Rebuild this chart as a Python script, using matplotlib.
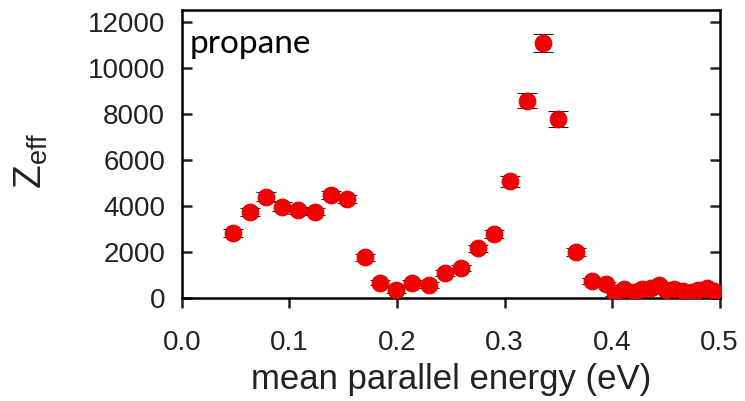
import matplotlib.pyplot as plt
import numpy as np

# mean parallel energy (eV) and Zeff values
energy = [0.048, 0.063, 0.078, 0.093, 0.108, 0.124, 0.139, 0.154, 0.170, 0.184,
          0.199, 0.214, 0.230, 0.245, 0.260, 0.275, 0.290, 0.305, 0.321, 0.336,
          0.350, 0.366, 0.381, 0.394, 0.403, 0.411, 0.420, 0.428, 0.436, 0.444,
          0.450, 0.458, 0.466, 0.474, 0.480, 0.488, 0.495]
zeff = [2810, 3730, 4400, 3970, 3800, 3750, 4480, 4300, 1770, 670,
        350, 670, 570, 1070, 1290, 2160, 2780, 5060, 8560, 11070,
        7780, 1990, 740, 600, 200, 380, 270, 380, 420, 560,
        350, 380, 320, 270, 350, 420, 320]
err = [170, 170, 180, 180, 170, 170, 180, 180, 150, 120,
       120, 120, 120, 130, 140, 160, 180, 250, 330, 390,
       350, 160, 120, 100, 100, 100, 100, 100, 100, 100,
       100, 100, 100, 100, 100, 100, 100]

plt.rcParams['font.family'] = ['Liberation Sans', 'DejaVu Sans']

fig = plt.figure(figsize=(7.45, 4.01), dpi=100)
ax = fig.add_axes([0.244, 0.257, 0.722, 0.718])

ax.errorbar(energy, zeff, yerr=err, fmt='o', color='#f20000', ms=12,
            mec='#e00000', mew=0.8, ecolor='#222222', elinewidth=1.2,
            capsize=7, capthick=1.8, zorder=3)

ax.set_xlim(0, 0.5)
ax.set_ylim(0, 12500)
ax.set_xticks(np.arange(0, 0.51, 0.1))
ax.set_xticklabels(['0.0', '0.1', '0.2', '0.3', '0.4', '0.5'])
ax.set_yticks(np.arange(0, 12001, 2000))

for s in ax.spines.values():
    s.set_linewidth(1.8)
ax.tick_params(axis='x', direction='out', length=7, width=1.8,
               labelsize=20, pad=16, colors='#222222')
ax.tick_params(axis='y', direction='in', length=7, width=1.8,
               labelsize=20, pad=12, right=True, colors='#222222')

ax.set_xlabel('mean parallel energy (eV)', fontsize=25, color='#222222', labelpad=5)
ax.set_ylabel(r'Z$_\mathregular{eff}$', fontsize=28, color='#222222')
ax.yaxis.set_label_coords(-0.245, 0.476)

ax.text(0.015, 0.851, 'propane', transform=ax.transAxes, fontsize=24,
        family=['Lato', 'DejaVu Sans'], va='baseline', ha='left')

fig.savefig('out.png', dpi=100)
